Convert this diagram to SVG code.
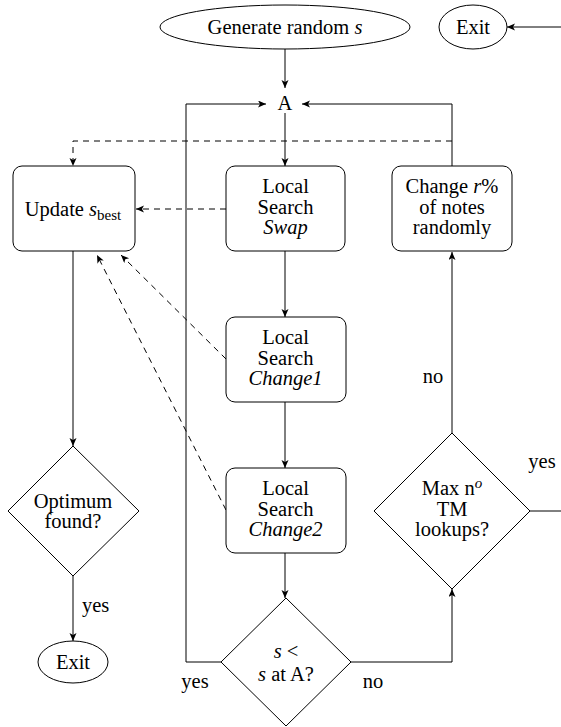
<svg xmlns="http://www.w3.org/2000/svg" width="561" height="727" viewBox="0 0 561 727">
<style>
text{font-family:'Liberation Serif',serif;font-size:20.5px;fill:#000;text-anchor:middle}
.i{font-style:italic}
.sh{fill:#fff;stroke:#000;stroke-width:1}
.c{fill:none;stroke:#000;stroke-width:1}
.d{fill:none;stroke:#000;stroke-width:1;stroke-dasharray:6 5}
.l{text-anchor:start}
</style>
<defs>
<marker id="ah" markerUnits="userSpaceOnUse" markerWidth="10" markerHeight="8" refX="8" refY="3.5" orient="auto">
<path d="M0,0 L8,3.5 L0,7 L2,3.5 Z" fill="#000"/>
</marker>
</defs>
<rect width="561" height="727" fill="#fff"/>
<g id="connectors">
<path class="c" d="M285,49 V88" marker-end="url(#ah)"/>
<path class="c" d="M221,662 H186 V104 H266" marker-end="url(#ah)"/>
<path class="c" d="M452,166 V104 H302" marker-end="url(#ah)"/>
<path class="c" d="M285,113 V166" marker-end="url(#ah)"/>
<path class="c" d="M285,251 V317" marker-end="url(#ah)"/>
<path class="c" d="M285,402 V468" marker-end="url(#ah)"/>
<path class="c" d="M285,553 V598" marker-end="url(#ah)"/>
<path class="c" d="M350,662 H452 V589" marker-end="url(#ah)"/>
<path class="c" d="M452,433 V252" marker-end="url(#ah)"/>
<path class="c" d="M530,511 H561"/>
<path class="c" d="M561,27 H507" marker-end="url(#ah)"/>
<path class="c" d="M73,251 V446" marker-end="url(#ah)"/>
<path class="c" d="M73,576 V641" marker-end="url(#ah)"/>
<path class="d" d="M452,141 H73 V166" marker-end="url(#ah)"/>
<path class="d" d="M226,209 H136" marker-end="url(#ah)"/>
<path class="d" d="M226,359 L121,255" marker-end="url(#ah)"/>
<path class="d" d="M226,510 L97,255" marker-end="url(#ah)"/>
<text x="195" y="688">yes</text>
<text x="373" y="688">no</text>
<text x="433" y="383">no</text>
<text x="542" y="468">yes</text>
<text x="82" y="612" class="l">yes</text>
</g>
<g id="gen">
<ellipse class="sh" cx="285" cy="27" rx="125" ry="22"/>
<text x="285" y="34">Generate random <tspan class="i">s</tspan></text>
</g>
<g id="exit-top">
<ellipse class="sh" cx="473" cy="27" rx="34" ry="22"/>
<text x="473" y="34">Exit</text>
</g>
<g id="A">
<text x="285" y="110">A</text>
</g>
<g id="update">
<rect class="sh" x="13" y="166" width="122" height="85" rx="9"/>
<text x="73" y="216">Update <tspan class="i">s</tspan><tspan font-size="15" dy="4">best</tspan></text>
</g>
<g id="swap">
<rect class="sh" x="226" y="166" width="119" height="85" rx="9"/>
<text x="285.5" y="193">Local</text>
<text x="285.5" y="213.5">Search</text>
<text x="285.5" y="234" class="i">Swap</text>
</g>
<g id="change-r">
<rect class="sh" x="392" y="166" width="120" height="85" rx="9"/>
<text x="452" y="193">Change <tspan class="i">r</tspan>%</text>
<text x="452" y="213.5">of notes</text>
<text x="452" y="234">randomly</text>
</g>
<g id="change1">
<rect class="sh" x="226" y="317" width="120" height="85" rx="9"/>
<text x="285.5" y="344">Local</text>
<text x="285.5" y="364.5">Search</text>
<text x="285.5" y="385" class="i">Change1</text>
</g>
<g id="change2">
<rect class="sh" x="226" y="468" width="120" height="85" rx="9"/>
<text x="285.5" y="495">Local</text>
<text x="285.5" y="515.5">Search</text>
<text x="285.5" y="536" class="i">Change2</text>
</g>
<g id="maxn">
<path class="sh" d="M452,433 L530,511 L452,589 L374,511 Z"/>
<text x="452" y="495">Max n<tspan class="i" font-size="15" dy="-7">o</tspan></text>
<text x="452" y="515.5">TM</text>
<text x="452" y="536">lookups?</text>
</g>
<g id="optimum">
<path class="sh" d="M73,446 L139,511 L73,576 L8,511 Z"/>
<text x="73" y="508">Optimum</text>
<text x="73" y="528">found?</text>
</g>
<g id="exit-bottom">
<ellipse class="sh" cx="73" cy="662" rx="35" ry="21"/>
<text x="73" y="669">Exit</text>
</g>
<g id="cmp">
<path class="sh" d="M286,598 L351,662 L286,726 L221,662 Z"/>
<text x="286" y="658"><tspan class="i">s</tspan> &lt;</text>
<text x="286" y="681"><tspan class="i">s</tspan> at A?</text>
</g>
</svg>
